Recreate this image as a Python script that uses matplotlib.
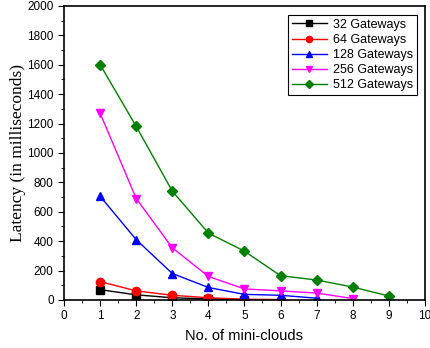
import matplotlib
matplotlib.use("Agg")
import matplotlib.pyplot as plt
from matplotlib.ticker import MultipleLocator

labels = ["32 Gateways", "64 Gateways", "128 Gateways", "256 Gateways", "512 Gateways"]
x_32 = [1, 2, 3, 4, 5]
y_32 = [70, 35, 15, 7, 3]
x_64 = [1, 2, 3, 4, 5, 6]
y_64 = [125, 62, 32, 15, 5, 3]
x_128 = [1, 2, 3, 4, 5, 6, 7]
y_128 = [705, 410, 180, 85, 38, 32, 12]
x_256 = [1, 2, 3, 4, 5, 6, 7, 8]
y_256 = [1270, 690, 355, 160, 75, 62, 47, 10]
x_512 = [1, 2, 3, 4, 5, 6, 7, 8, 9]
y_512 = [1600, 1180, 740, 455, 332, 165, 136, 88, 27]

plt.rcParams['font.family'] = ['Liberation Sans', 'DejaVu Sans']

fig = plt.figure(figsize=(4.3, 3.48), dpi=100)
ax = fig.add_axes([0.149, 0.138, 0.839, 0.845])

series = [
    (x_32, y_32, 'black', 's'),
    (x_64, y_64, 'red', 'o'),
    (x_128, y_128, 'blue', '^'),
    (x_256, y_256, 'magenta', 'v'),
    (x_512, y_512, 'green', 'D'),
]
for (xs, ys, c, m), lab in zip(series, labels):
    ax.plot(xs, ys, color=c, marker=m, markersize=6 if m != 'D' else 5.5,
            linewidth=1, label=lab)

ax.set_xlim(0, 10)
ax.set_ylim(0, 2000)
ax.xaxis.set_major_locator(MultipleLocator(1))
ax.xaxis.set_minor_locator(MultipleLocator(0.5))
ax.yaxis.set_major_locator(MultipleLocator(200))
ax.yaxis.set_minor_locator(MultipleLocator(100))
ax.tick_params(which='major', direction='out', length=4, labelsize=8.5)
ax.tick_params(which='minor', direction='out', length=2)
for s in ax.spines.values():
    s.set_linewidth(1.2)

ax.set_xlabel("No. of mini-clouds", fontsize=10.5, labelpad=5)
ax.set_ylabel("Latency (in milliseconds)", fontsize=12.5,
              family=['Liberation Serif'], labelpad=1)

leg = ax.legend(loc='upper right', fontsize=9, fancybox=False, framealpha=1,
                edgecolor='black', handlelength=2.8, handletextpad=0.5,
                borderpad=0.3, labelspacing=0.25, borderaxespad=0,
                markerscale=0.75, bbox_to_anchor=(0.978, 0.969))
leg.get_frame().set_linewidth(0.8)

fig.savefig("out.png", dpi=100)
